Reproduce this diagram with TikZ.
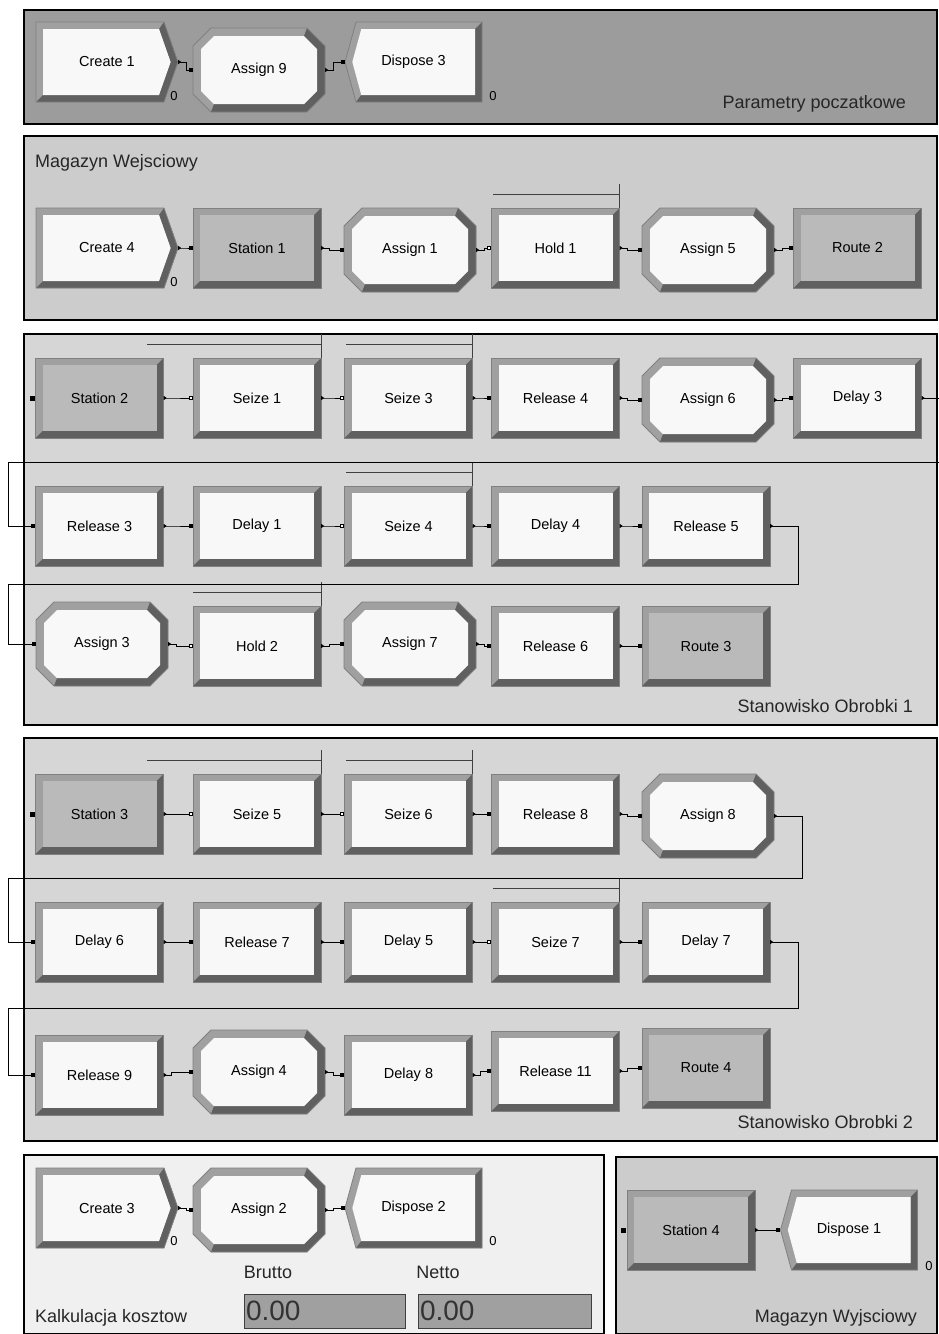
\documentclass[tikz,border=0pt]{standalone}
\usepackage{fontspec}
\setmainfont{Liberation Sans}
\usepackage{tikz}
\usetikzlibrary{arrows.meta,calc}
\definecolor{panelgrey}{RGB}{156,156,156}
\definecolor{panelmid}{RGB}{204,204,204}
\definecolor{panellight}{RGB}{214,214,214}
\definecolor{panelpale}{RGB}{240,240,240}
\definecolor{modface}{RGB}{248,248,248}
\definecolor{stnface}{RGB}{186,186,186}
\definecolor{bevlight}{RGB}{160,160,160}
\definecolor{bevdark}{RGB}{96,96,96}
\definecolor{bevedge}{RGB}{128,128,128}
\definecolor{qgrey}{RGB}{64,64,64}
\definecolor{valgrey}{RGB}{160,160,160}
\tikzset{
  base/.style={font=\fontsize{14.5}{16}\selectfont, align=center, inner sep=0pt, text=black},
  blk/.style={base, rectangle, minimum width=128pt, minimum height=80pt},
  asg/.style={base, rectangle, minimum width=132pt, minimum height=84pt},
  crt/.style={base, rectangle, minimum width=142pt, minimum height=80pt},
  dsp/.style={base, rectangle, minimum width=137pt, minimum height=80pt},
  bevbox/.pic={
    \fill[bevlight] (-64,-40) rectangle (64,40);
    \fill[bevdark] (64,-40) -- (64,40) -- (-64,40) -- (-57,33) -- (57,33) -- (57,-33) -- cycle;
    \fill[#1] (-57,-33) rectangle (57,33);
    \draw[bevedge,line width=0.8pt] (-64,-40) rectangle (64,40);
  },
  octbox/.pic={
    \fill[bevlight] (-48,-42) -- (48,-42) -- (66,-24) -- (66,24) -- (48,42) -- (-48,42) -- (-66,24) -- (-66,-24) -- cycle;
    \fill[bevdark] (48,-42) -- (66,-24) -- (66,24) -- (48,42) -- (-48,42) -- (-45,34) -- (45,34) -- (58,21) -- (58,-21) -- (45,-34) -- cycle;
    \fill[modface] (-45,-34) -- (45,-34) -- (58,-21) -- (58,21) -- (45,34) -- (-45,34) -- (-58,21) -- (-58,-21) -- cycle;
    \draw[bevedge,line width=0.8pt] (-48,-42) -- (48,-42) -- (66,-24) -- (66,24) -- (48,42) -- (-48,42) -- (-66,24) -- (-66,-24) -- cycle;
  },
  crtbox/.pic={
    \fill[bevlight] (-71,-40) -- (57,-40) -- (71,0) -- (57,40) -- (-71,40) -- cycle;
    \fill[bevdark] (57,-40) -- (71,0) -- (57,40) -- (-71,40) -- (-64,33) -- (52,33) -- (63.6,0) -- (52,-33) -- cycle;
    \fill[modface] (-64,-33) -- (52,-33) -- (63.6,0) -- (52,33) -- (-64,33) -- cycle;
    \draw[bevedge,line width=0.8pt] (-71,-40) -- (57,-40) -- (71,0) -- (57,40) -- (-71,40) -- cycle;
  },
  dspbox/.pic={
    \fill[bevlight] (-57.5,-40) -- (68.5,-40) -- (68.5,40) -- (-57.5,40) -- (-68.5,0) -- cycle;
    \fill[bevdark] (68.5,-40) -- (68.5,40) -- (-57.5,40) -- (-52.2,33) -- (61.5,33) -- (61.5,-33) -- cycle;
    \fill[modface] (-52.2,-33) -- (61.5,-33) -- (61.5,33) -- (-52.2,33) -- (-61.2,0) -- cycle;
    \draw[bevedge,line width=0.8pt] (-57.5,-40) -- (68.5,-40) -- (68.5,40) -- (-57.5,40) -- (-68.5,0) -- cycle;
  },
  panel/.style={draw=black, line width=1.5pt, fill=#1},
  plbl/.style={font=\fontsize{18}{20}\selectfont, inner sep=0pt, text=black!85},
  zlbl/.style={font=\fontsize{13}{14}\selectfont, inner sep=0pt},
  entpt/.style={rectangle, fill=black, minimum size=5pt, inner sep=0pt},
  valbox/.style={draw=qgrey, fill=valgrey, line width=1pt, minimum height=34pt, inner xsep=2pt, inner ysep=0pt,
    align=left, font=\fontsize{28}{28}\selectfont, text=black!80},
  qline/.style={draw=qgrey, line width=1.2pt},
  conn/.style={line width=1pt, draw=black, arrows={Triangle[reversed,length=3pt,width=4pt]-Square[length=4pt,width=4pt]}},
  connq/.style={conn, arrows={Triangle[reversed,length=3pt,width=4pt]-Square[fill=white,length=4pt,width=4pt]}},
}
\begin{document}
\begin{tikzpicture}[x=1pt,y=-1pt]
  \useasboundingbox (0,0) rectangle (938,1334);
  \draw[panel=panelgrey] (24,10) rectangle (937,124);
  \draw[panel=panelmid] (24,136) rectangle (937,320);
  \draw[panel=panellight] (24,334) rectangle (937,725);
  \draw[panel=panellight] (24,738) rectangle (937,1141);
  \draw[panel=panelpale] (24,1155) rectangle (604,1334);
  \draw[panel=panelmid] (616,1157) rectangle (937,1334);

  \foreach \n/\x/\y/\t in {hold1/555.5/248/Hold 1,
      sz1/257/398/Seize 1,sz3/408.5/398/Seize 3,rel4/555.5/398/Release 4,dly3/857.5/398/Delay 3,
      rel3/99.5/526/Release 3,dly1/257/526/Delay 1,sz4/408.5/526/Seize 4,dly4/555.5/526/Delay 4,rel5/706/526/Release 5,
      hold2/257/646/Hold 2,rel6/555.5/646/Release 6,
      sz5/257/814/Seize 5,sz6/408.5/814/Seize 6,rel8/555.5/814/Release 8,
      dly6/99.5/942/Delay 6,rel7/257/942/Release 7,dly5/408.5/942/Delay 5,sz7/555.5/942/Seize 7,dly7/706/942/Delay 7,
      rel9/99.5/1075/Release 9,dly8/408.5/1075/Delay 8,rel11/555.5/1071/Release 11}{
    \pic at (\x,\y) {bevbox=modface};
    \node[blk] (\n) at (\x,\y) {\t};
  }
  \foreach \n/\x/\y/\t in {stn1/257/248/Station 1,rte2/857.5/248/Route 2,stn2/99.5/398/Station 2,
      rte3/706/646/Route 3,stn3/99.5/814/Station 3,rte4/706/1068/Route 4,stn4/691/1230/Station 4}{
    \pic at (\x,\y) {bevbox=stnface};
    \node[blk] (\n) at (\x,\y) {\t};
  }
  \foreach \n/\x/\y/\t in {asg9/259/70/Assign 9,asg1/410/250/Assign 1,asg5/708/250/Assign 5,
      asg6/708/400/Assign 6,asg3/102/644/Assign 3,asg7/410/644/Assign 7,asg8/708/816/Assign 8,
      asg4/259/1072/Assign 4,asg2/259/1210/Assign 2}{
    \pic at (\x,\y) {octbox};
    \node[asg] (\n) at (\x,\y) {\t};
  }
  \foreach \n/\x/\y/\t in {crt1/107/62/Create 1,crt4/107/248/Create 4,crt3/107/1208/Create 3}{
    \pic at (\x,\y) {crtbox};
    \node[crt] (\n) at (\x,\y) {\t};
  }
  \foreach \n/\x/\y/\t in {dsp3/413.5/62/Dispose 3,dsp2/413.5/1208/Dispose 2,dsp1/849/1230/Dispose 1}{
    \pic at (\x,\y) {dspbox};
    \node[dsp] (\n) at (\x,\y) {\t};
  }

  \foreach \n/\l in {hold1/127,sz1/174,sz3/127,sz4/127,hold2/128,sz5/174,sz6/127,sz7/127}{
    \draw[qline] (\n.north east) -- ++(0,-24) (\n.north east) ++(0,-13) -- ++(-\l,0);
  }

  \foreach \a/\b in {crt1/asg9,asg9/dsp3,crt4/stn1,stn1/asg1,hold1/asg5,asg5/rte2,
      sz3/rel4,rel4/asg6,asg6/dly3,rel3/dly1,sz4/dly4,dly4/rel5,hold2/asg7,asg7/rel6,rel6/rte3,
      sz6/rel8,rel8/asg8,dly6/rel7,rel7/dly5,sz7/dly7,rel9/asg4,asg4/dly8,dly8/rel11,rel11/rte4,
      crt3/asg2,asg2/dsp2,stn4/dsp1}{
    \draw[conn] (\a.east) -- ++(8,0) |- (\b.west);
  }
  \foreach \a/\b in {asg1/hold1,stn2/sz1,sz1/sz3,dly1/sz4,asg3/hold2,stn3/sz5,sz5/sz6,dly5/sz7}{
    \draw[connq] (\a.east) -- ++(8,0) |- (\b.west);
  }

  \coordinate (w1a) at (945,462);
  \coordinate (w1b) at (8,462);
  \coordinate (w2a) at (798,584);
  \coordinate (w2b) at (8,584);
  \coordinate (w3a) at (802,878);
  \coordinate (w3b) at (8,878);
  \coordinate (w4a) at (798,1008);
  \coordinate (w4b) at (8,1008);
  \draw[conn] (dly3.east) -| (w1a) -- (w1b) |- (rel3.west);
  \draw[conn] (rel5.east) -| (w2a) -- (w2b) |- (asg3.west);
  \draw[conn] (asg8.east) -| (w3a) -- (w3b) |- (dly6.west);
  \draw[conn] (dly7.east) -| (w4a) -- (w4b) |- (rel9.west);

  \node[entpt] (stn2in) at ([xshift=-3pt]stn2.west) {};
  \node[entpt] (stn3in) at ([xshift=-3pt]stn3.west) {};
  \node[entpt] (stn4in) at ([xshift=-3pt]stn4.west) {};

  \foreach \n/\x/\y in {z1/174/96,z2/493/96,z3/174/282,z4/174/1241,z5/493/1241,z6/929/1266}{
    \node[zlbl] (\n) at (\x,\y) {0};
  }

  \node[plbl, anchor=east] (lpar) at (906,104) {Parametry poczatkowe};
  \node[plbl, anchor=west] (lwej) at (35,163) {Magazyn Wejsciowy};
  \node[plbl, anchor=east] (lob1) at (913,706) {Stanowisko Obrobki 1};
  \node[plbl, anchor=east] (lob2) at (913,1122) {Stanowisko Obrobki 2};
  \node[plbl, anchor=west] (lkal) at (35,1318) {Kalkulacja kosztow};
  \node[plbl, anchor=east] (lwyj) at (917,1318) {Magazyn Wyjsciowy};
  \node[plbl] (lbru) at (268,1272) {Brutto};
  \node[plbl] (lnet) at (438,1272) {Netto};
  \node[valbox, text width=157pt] (vbru) at (324.5,1311) {0.00};
  \node[valbox, text width=169pt] (vnet) at (504.5,1311) {0.00};
\end{tikzpicture}
\end{document}
